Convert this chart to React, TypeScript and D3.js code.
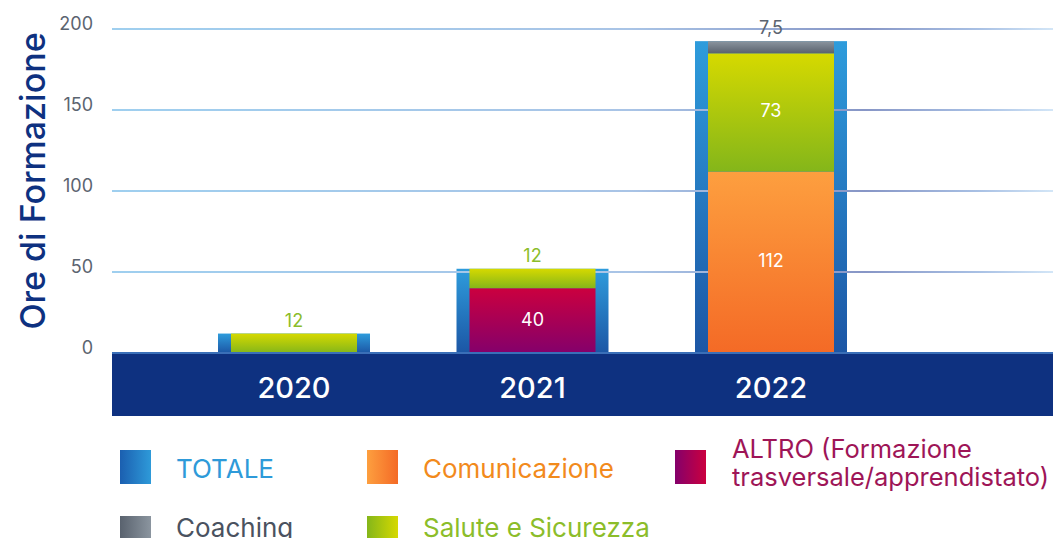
import React from "react";
import * as d3 from "d3";

const years = ["2020", "2021", "2022"];
const comunicazione = [0, 0, 112];
const altro = [0, 40, 0];
const salute = [12, 12, 73];
const coaching = [0, 0, 7.5];
const totale = [12, 52, 192.5];
const yTicks = [0, 50, 100, 150, 200];

const seriesKeys = ["comunicazione", "altro", "salute", "coaching"];
const seriesValues: Record<string, number[]> = { comunicazione, altro, salute, coaching };
const seriesText: Record<string, string> = {
  comunicazione: "#f28a1c",
  altro: "#9e1557",
  salute: "#8cbd2a",
  coaching: "#5b6470",
};

const W = 1058;
const H = 538;

export default function App() {
  const y = d3.scaleLinear().domain([0, 200]).range([353, 29]);
  const x = d3.scalePoint<string>().domain(years).range([294, 771]);
  const outerW = 152;
  const innerW = 126;

  const table = years.map((yr, i) => {
    const row: any = { year: yr };
    seriesKeys.forEach((k) => (row[k] = seriesValues[k][i]));
    return row;
  });
  const stacked = d3.stack<any>().keys(seriesKeys)(table);
  const fmt = (v: number) => String(v).replace(".", ",");

  const labels: any[] = [];
  years.forEach((yr, i) => {
    const topOfStack = stacked[stacked.length - 1][i][1];
    stacked.forEach((s) => {
      const v = s[i][1] - s[i][0];
      if (v <= 0) return;
      const h = y(s[i][0]) - y(s[i][1]);
      if (h < 30) {
        labels.push({ x: x(yr)!, y: y(Math.max(totale[i], topOfStack)) - 7, text: fmt(v), color: seriesText[s.key], key: s.key + yr });
      } else {
        labels.push({ x: x(yr)!, y: (y(s[i][0]) + y(s[i][1])) / 2 + 5, text: fmt(v), color: "#ffffff", key: s.key + yr });
      }
    });
  });

  const legend = [
    { key: "tot", grad: "lg-tot", col: 0, row: 0, lines: ["TOTALE"], color: "#2e9ad9" },
    { key: "com", grad: "lg-com", col: 1, row: 0, lines: ["Comunicazione"], color: "#f28a1c" },
    { key: "alt", grad: "lg-alt", col: 2, row: 0, lines: ["ALTRO (Formazione", "trasversale/apprendistato)"], color: "#9e1557" },
    { key: "coa", grad: "lg-coa", col: 0, row: 1, lines: ["Coaching"], color: "#4a5260" },
    { key: "sal", grad: "lg-sal", col: 1, row: 1, lines: ["Salute e Sicurezza"], color: "#8cbd2a" },
  ];
  const colX = [120, 367, 675];
  const rowY = [450, 516];

  return (
    <svg width={W} height={H} style={{ position: "absolute", left: 0, top: 0, fontFamily: "Inter, 'Noto Sans', sans-serif" }}>
      <defs>
        <linearGradient id="grid" x1="0" x2="1" y1="0" y2="0">
          <stop offset="0%" stopColor="#9fcfef" />
          <stop offset="55%" stopColor="#a9c4e6" />
          <stop offset="80%" stopColor="#8796c6" />
          <stop offset="92%" stopColor="#a8c0e4" />
          <stop offset="100%" stopColor="#d3e6f7" />
        </linearGradient>
        <linearGradient id="g-tot" x1="0" x2="0" y1="0" y2="1">
          <stop offset="0%" stopColor="#2e9cdc" />
          <stop offset="100%" stopColor="#1c56a5" />
        </linearGradient>
        <linearGradient id="g-comunicazione" x1="0" x2="0" y1="0" y2="1">
          <stop offset="0%" stopColor="#fd9f3f" />
          <stop offset="100%" stopColor="#f46a26" />
        </linearGradient>
        <linearGradient id="g-altro" x1="0" x2="0" y1="0" y2="1">
          <stop offset="0%" stopColor="#cb003f" />
          <stop offset="100%" stopColor="#84006b" />
        </linearGradient>
        <linearGradient id="g-salute" x1="0" x2="0" y1="0" y2="1">
          <stop offset="0%" stopColor="#d6d900" />
          <stop offset="100%" stopColor="#84b61a" />
        </linearGradient>
        <linearGradient id="g-coaching" x1="0" x2="0" y1="0" y2="1">
          <stop offset="0%" stopColor="#8b959f" />
          <stop offset="100%" stopColor="#59626e" />
        </linearGradient>
        <linearGradient id="lg-tot" x1="0" x2="1" y1="0" y2="0">
          <stop offset="0%" stopColor="#1b5fb0" />
          <stop offset="100%" stopColor="#2e9ad9" />
        </linearGradient>
        <linearGradient id="lg-com" x1="0" x2="1" y1="0" y2="0">
          <stop offset="0%" stopColor="#fd9f3f" />
          <stop offset="100%" stopColor="#f46a26" />
        </linearGradient>
        <linearGradient id="lg-alt" x1="0" x2="1" y1="0" y2="0">
          <stop offset="0%" stopColor="#84006b" />
          <stop offset="100%" stopColor="#cb003f" />
        </linearGradient>
        <linearGradient id="lg-coa" x1="0" x2="1" y1="0" y2="0">
          <stop offset="0%" stopColor="#59626e" />
          <stop offset="100%" stopColor="#8b959f" />
        </linearGradient>
        <linearGradient id="lg-sal" x1="0" x2="1" y1="0" y2="0">
          <stop offset="0%" stopColor="#84b61a" />
          <stop offset="100%" stopColor="#d6d900" />
        </linearGradient>
      </defs>

      {/* y-axis title */}
      <text
        transform={`translate(45,181) rotate(-90)`}
        textAnchor="middle"
        fontSize={34}
        fontWeight={500}
        fill="#0e3180"
      >
        Ore di Formazione
      </text>

      {/* tick labels */}
      {yTicks.map((t) => (
        <text key={"tl" + t} x={93} y={y(t) + 1} textAnchor="end" fontSize={18} fill="#5b6470">
          {t}
        </text>
      ))}

      {/* total bars */}
      {years.map((yr, i) => (
        <rect
          key={"tot" + yr}
          x={x(yr)! - outerW / 2}
          y={y(totale[i])}
          width={outerW}
          height={y(0) - y(totale[i])}
          fill="url(#g-tot)"
        />
      ))}

      {/* gridlines */}
      {yTicks.filter((t) => t > 0).map((t) => (
        <rect key={"gl" + t} x={112} y={y(t) - 1} width={941} height={2} fill="url(#grid)" />
      ))}

      {/* stacked segments */}
      {stacked.map((s) =>
        s.map((d, i) =>
          d[1] - d[0] > 0 ? (
            <rect
              key={s.key + i}
              x={x(years[i])! - innerW / 2}
              y={y(d[1])}
              width={innerW}
              height={y(d[0]) - y(d[1])}
              fill={`url(#g-${s.key})`}
            />
          ) : null
        )
      )}

      {/* base band */}
      <rect x={112} y={352} width={941} height={2} fill="#3a6fb8" />
      <rect x={112} y={354} width={941} height={62} fill="#0e3180" />
      {years.map((yr) => (
        <text key={"yl" + yr} x={x(yr)!} y={398} textAnchor="middle" fontSize={29} fontWeight={500} fill="#ffffff">
          {yr}
        </text>
      ))}

      {/* value labels */}
      {labels.map((l) => (
        <text key={l.key} x={l.x} y={l.y} textAnchor="middle" fontSize={18} fill={l.color}>
          {l.text}
        </text>
      ))}

      {/* legend */}
      {legend.map((lg) => {
        const sx = colX[lg.col];
        const sy = rowY[lg.row];
        return (
          <g key={lg.key}>
            <rect x={sx} y={sy} width={31} height={34} fill={`url(#${lg.grad})`} />
            {lg.lines.length === 1 ? (
              <text x={sx + 56} y={lg.row === 0 ? sy + 28 : 537} fontSize={26} fill={lg.color}>
                {lg.lines[0]}
              </text>
            ) : (
              <text fontSize={25.5} fill={lg.color}>
                {lg.lines.map((ln, j) => (
                  <tspan key={j} x={sx + 57} y={458 + j * 28}>
                    {ln}
                  </tspan>
                ))}
              </text>
            )}
          </g>
        );
      })}
    </svg>
  );
}
